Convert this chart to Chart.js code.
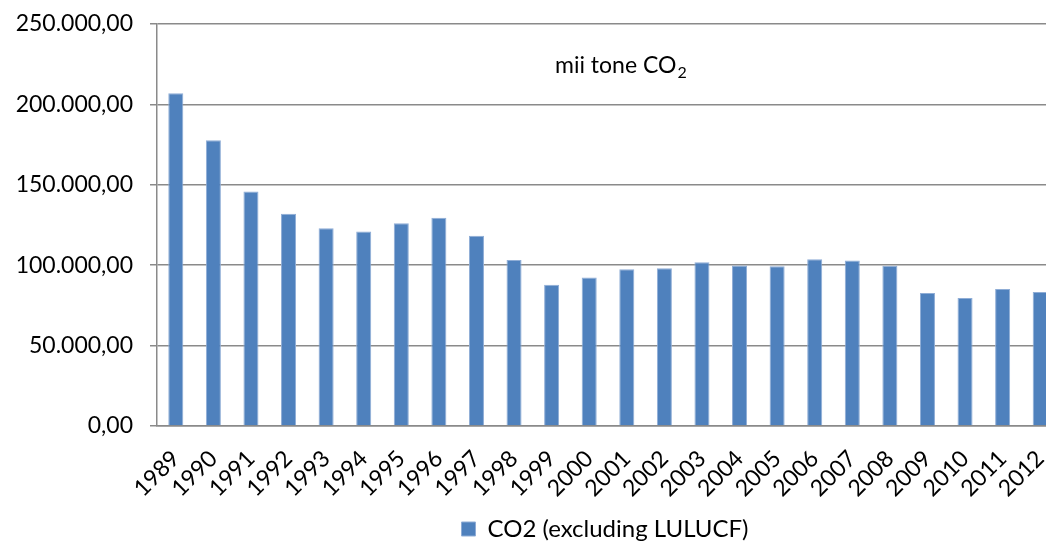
<!DOCTYPE html>
<html>
<head>
<meta charset="utf-8">
<script src="https://cdn.jsdelivr.net/npm/chart.js@4/dist/chart.umd.min.js"></script>
<style>
  html, body { margin: 0; padding: 0; background: #fff; overflow: hidden; }
  /* the original plot runs past the right edge of the picture */
  #wrap { width: 1059px; height: 543px; }
</style>
</head>
<body>
<div id="wrap"><canvas id="chart"></canvas></div>
<script>
const years = ['1989', '1990', '1991', '1992', '1993', '1994', '1995', '1996', '1997', '1998', '1999', '2000',
               '2001', '2002', '2003', '2004', '2005', '2006', '2007', '2008', '2009', '2010', '2011', '2012'];
const co2 = [206900, 177700, 145900, 132000, 123000, 120900, 126100, 129500, 118300, 103300, 87900, 92300,
             97500, 98100, 101900, 99800, 99300, 103700, 102900, 99600, 82700, 79600, 85200, 83300];
const seriesName = 'CO2 (excluding LULUCF)';
const yTicks = [0, 50000, 100000, 150000, 200000, 250000];

const fontFam = 'Lato, "Open Sans", sans-serif';

// 250000 -> "250.000,00"
function fmt(v) {
    const s = String(Math.round(v)).replace(/\B(?=(\d{3})+(?!\d))/g, '.');
    return s + ',00';
}

// unit label inside the plot, with a subscript 2
const unitLabel = {
    id: 'unitLabel',
    afterDraw(chart) {
        const c = chart.ctx;
        c.save();
        c.fillStyle = '#000';
        c.textBaseline = 'alphabetic';
        c.textAlign = 'left';
        c.font = '23px ' + fontFam;
        const main = 'mii tone CO';
        const x = 555, y = 73;
        c.fillText(main, x, y);
        const w = c.measureText(main).width;
        c.font = '16px ' + fontFam;
        c.fillText('2', x + w + 1, y + 5);
        c.restore();
    }
};

// legend sits right of centre and a bit lower in the original
const shiftLegend = {
    id: 'shiftLegend',
    afterLayout(chart) {
        const lg = chart.legend;
        if (lg) {
            lg.left += 151;
            lg.top += 8;
            lg.bottom += 8;
        }
    }
};

new Chart(document.getElementById('chart'), {
    type: 'bar',
    data: {
        labels: years,
        datasets: [{
            label: seriesName,
            data: co2,
            backgroundColor: '#4f81bd',
            borderColor: '#8fadd6',
            borderWidth: 1,
            barPercentage: 0.4,
            categoryPercentage: 1.0
        }]
    },
    options: {
        responsive: true,
        maintainAspectRatio: false,
        animation: false,
        layout: { padding: { top: 24, right: 0, left: 0, bottom: 0 } },
        scales: {
            x: {
                afterFit(scale) {
                    scale.height = 79;
                    scale.paddingLeft = 0;
                    scale.paddingRight = 0;
                },
                grid: { display: false, drawOnChartArea: false, drawTicks: true, tickLength: 7, color: '#8a8a8a', offset: true },
                border: { color: '#8a8a8a', width: 1.5 },
                ticks: {
                    color: '#000',
                    font: { family: fontFam, size: 23 },
                    maxRotation: 45, minRotation: 45, autoSkip: false, padding: 12
                }
            },
            y: {
                min: 0, max: 250000,
                afterBuildTicks(scale) { scale.ticks = yTicks.map(v => ({ value: v })); },
                afterFit(scale) {
                    scale.width = 157;
                    scale.paddingTop = 0;
                    scale.paddingBottom = 0;
                },
                grid: { color: '#8a8a8a', lineWidth: 1.5, tickLength: 7 },
                border: { color: '#8a8a8a', width: 1.5 },
                ticks: {
                    color: '#000',
                    font: { family: fontFam, size: 23 },
                    padding: 17,
                    callback: v => fmt(v)
                }
            }
        },
        plugins: {
            title: { display: false },
            tooltip: { enabled: false },
            legend: {
                position: 'bottom',
                labels: {
                    color: '#000',
                    font: { family: fontFam, size: 24 },
                    boxWidth: 14, boxHeight: 14,
                    padding: 4
                }
            }
        }
    },
    plugins: [unitLabel, shiftLegend]
});
</script>
</body>
</html>
